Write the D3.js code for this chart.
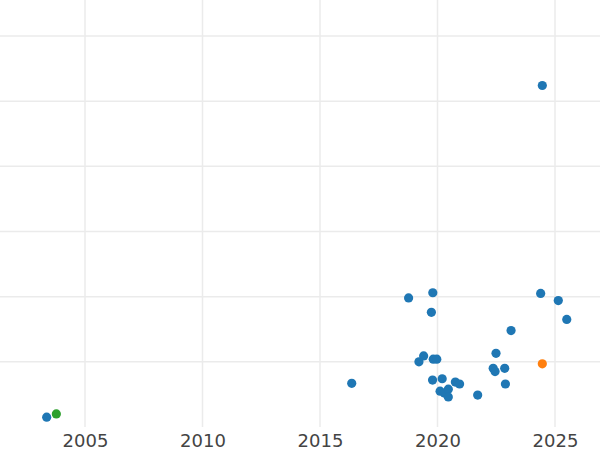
<!DOCTYPE html>
<html>
<head>
<meta charset="utf-8">
<script src="https://cdn.jsdelivr.net/npm/d3@7"></script>
<style>
  body { margin: 0; background: #fff; }
  svg { display: block; font-family: "DejaVu Sans", sans-serif; }
</style>
</head>
<body>
<svg id="chart" width="600" height="450"></svg>
<script>
"use strict"

// year of release, value (in grid units), group
const years  = [2003.37, 2003.78, 2016.35, 2018.77, 2019.80, 2019.74, 2019.21, 2019.41, 2019.82, 2019.97,
                2019.79, 2020.20, 2020.11, 2020.29, 2020.46, 2020.46, 2020.76, 2020.94, 2021.71, 2022.37,
                2022.45, 2022.86, 2022.89, 2022.49, 2023.13, 2024.39, 2025.14, 2025.50, 2024.46, 2024.46]
const values = [0.15, 0.20, 0.67, 1.98, 2.06, 1.76, 1.00, 1.09, 1.04, 1.04,
                0.72, 0.74, 0.55, 0.52, 0.58, 0.46, 0.69, 0.66, 0.49, 0.90,
                0.85, 0.90, 0.66, 1.13, 1.48, 2.05, 1.94, 1.65, 0.97, 5.24]
const groups = ["a", "b", "a", "a", "a", "a", "a", "a", "a", "a",
                "a", "a", "a", "a", "a", "a", "a", "a", "a", "a",
                "a", "a", "a", "a", "a", "a", "a", "a", "c", "a"]
const groupNames  = ["a", "c", "b"]
const groupColors = ["#1f77b4", "#ff7f0e", "#2ca02c"]
const xTicks = [2005, 2010, 2015, 2020, 2025]
const yTicks = [1, 2, 3, 4, 5, 6]

const width = 600, height = 450
const plotBottom = 427

const svg = d3.select("#chart")

const x = d3.scaleLinear()
    .domain([2001.383, 2026.915])
    .range([0, width])

const y = d3.scaleLinear()
    .domain([0, 6.552])
    .range([plotBottom, 0])

const color = d3.scaleOrdinal()
    .domain(groupNames)
    .range(groupColors)

// gridlines
svg.append("g")
    .attr("class", "grid-y")
    .selectAll("line")
    .data(yTicks)
    .enter().append("line")
    .attr("x1", 0)
    .attr("x2", width)
    .attr("y1", d => y(d))
    .attr("y2", d => y(d))
    .attr("stroke", "#ebebeb")
    .attr("stroke-width", 1.5)

svg.append("g")
    .attr("class", "grid-x")
    .selectAll("line")
    .data(xTicks)
    .enter().append("line")
    .attr("x1", d => x(d))
    .attr("x2", d => x(d))
    .attr("y1", 0)
    .attr("y2", plotBottom)
    .attr("stroke", "#ebebeb")
    .attr("stroke-width", 1.5)

// x axis labels only
let xAxis = svg.append("g")
    .attr("transform", "translate(0," + plotBottom + ")")
    .call(d3.axisBottom(x).tickValues(xTicks).tickFormat(d3.format("d")).tickSize(0).tickPadding(7))
xAxis.select(".domain").remove()
xAxis.selectAll("text")
    .attr("fill", "#444")
    .style("font-size", "18px")
    .style("font-family", "DejaVu Sans, sans-serif")

// points
let pts = years.map((yr, i) => ({year: yr, value: values[i], group: groups[i]}))

svg.append("g")
    .attr("class", "points")
    .selectAll("circle")
    .data(pts)
    .enter().append("circle")
    .attr("cx", d => x(d.year))
    .attr("cy", d => y(d.value))
    .attr("r", 4.6)
    .attr("fill", d => color(d.group))
</script>
</body>
</html>
